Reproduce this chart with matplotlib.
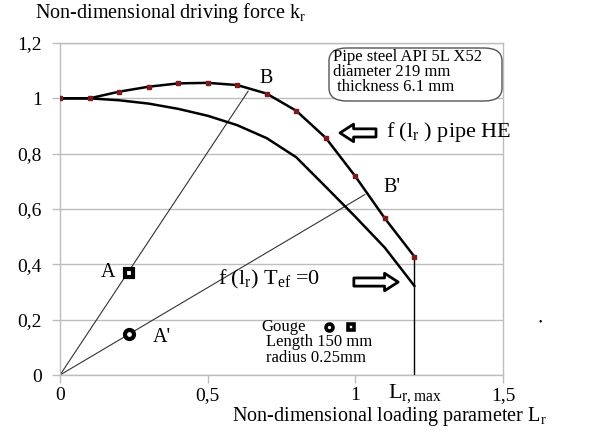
import matplotlib
matplotlib.use("Agg")
import matplotlib.pyplot as plt
from matplotlib.patches import FancyBboxPatch

plt.rcParams['font.family'] = ['Liberation Serif', 'DejaVu Serif']
plt.rcParams['mathtext.fontset'] = 'custom'
plt.rcParams['mathtext.rm'] = 'Liberation Serif'
plt.rcParams['mathtext.it'] = 'Liberation Serif:italic'

# Failure assessment curves
lr = [0.0, 0.1, 0.2, 0.3, 0.4, 0.5, 0.6, 0.7, 0.8, 0.9, 1.0, 1.1, 1.2]
kr_pipe_he = [1.0, 1.0, 1.024, 1.042, 1.054, 1.056, 1.048, 1.017, 0.955,
              0.857, 0.718, 0.566, 0.428]
kr_tef0 = [1.0, 1.0, 0.993, 0.981, 0.962, 0.937, 0.903, 0.856, 0.787,
           0.680, 0.572, 0.460, 0.322]
lr_max = 1.2

# Assessment points and load paths
point_A = (0.235, 0.37)
point_A2 = (0.235, 0.148)
point_B = (0.637, 1.026)
point_B2 = (1.032, 0.652)

x_ticks = [0, 0.5, 1, 1.5]
x_tick_labels = ['0', '0,5', '1', '1,5']
y_ticks = [0, 0.2, 0.4, 0.6, 0.8, 1.0, 1.2]
y_tick_labels = ['0', '0,2', '0,4', '0,6', '0,8', '1', '1,2']

fig = plt.figure(figsize=(5.97, 4.32), dpi=100)
ax = fig.add_axes([60 / 597, 57 / 432, 443 / 597, 332 / 432])
ax.set_xlim(0, 1.5)
ax.set_ylim(0, 1.2)

grid_c = '#bdbdbd'
for s in ax.spines.values():
    s.set_color(grid_c)
    s.set_linewidth(1.0)
ax.set_xticks(x_ticks)
ax.set_xticklabels(x_tick_labels, fontsize=14)
ax.set_yticks(y_ticks)
ax.set_yticklabels(y_tick_labels, fontsize=14)
ax.tick_params(axis='x', color=grid_c, length=6, width=1.0, pad=3)
ax.tick_params(axis='y', color=grid_c, length=6, width=1.0, pad=7)
ax.yaxis.grid(True, color=grid_c, linewidth=1.0)
ax.set_axisbelow(True)

# load paths from origin
ax.plot([0, point_B[0]], [0, point_B[1]], color='#333333', lw=0.8, zorder=2)
ax.plot([0, point_B2[0]], [0, point_B2[1]], color='#333333', lw=0.8, zorder=2)

# curves
ax.plot(lr, kr_tef0, color='black', lw=1.8, zorder=3)
ax.plot(lr, kr_pipe_he, color='black', lw=1.8, zorder=3)
ax.plot(lr, kr_pipe_he, ls='none', marker='s', ms=3, color='#7a1c1c', zorder=4)

# Lr,max cut-off
ax.plot([lr_max, lr_max], [0, kr_pipe_he[-1]], color='black', lw=1.0, zorder=3)

# assessment points
ax.plot(*point_A, marker='s', ms=6, mfc='white', mec='black', mew=3, zorder=5)
ax.plot(*point_A2, marker='o', ms=6.5, mfc='white', mec='black', mew=3, zorder=5)

fs = 14.5
ax.text(0.697, 1.073, 'B', fontsize=fs, ha='center', va='center')
ax.text(1.125, 0.676, "B'", fontsize=fs, ha='center', va='center')
ax.text(0.163, 0.372, 'A', fontsize=fs, ha='center', va='center')
ax.text(0.345, 0.137, "A'", fontsize=fs, ha='center', va='center')

ax.text(1.105, 0.878, r'f (l$_\mathrm{r}$ ) pipe HE', fontsize=16,
        ha='left', va='center', clip_on=False)
ax.text(0.535, 0.345, r'f (l$_\mathrm{r}$) T$_\mathrm{ef}$ =0', fontsize=16,
        ha='left', va='center')

arrow = dict(arrowstyle='simple,head_length=0.7,head_width=0.9,tail_width=0.42',
             mutation_scale=14, fc='white', ec='black', lw=2.0,
             shrinkA=0, shrinkB=0)
ax.annotate('', xy=(0.948, 0.875), xytext=(1.07, 0.875), arrowprops=arrow,
            annotation_clip=False)
ax.annotate('', xy=(1.145, 0.336), xytext=(0.995, 0.336), arrowprops=arrow)

# gouge description
gfs = 12
ax.text(0.683, 0.172, 'Gouge', fontsize=gfs, ha='left', va='center')
ax.plot(0.912, 0.172, marker='o', ms=5, mfc='white', mec='black', mew=2.6)
ax.plot(0.985, 0.172, marker='s', ms=4.5, mfc='white', mec='black', mew=2.6)
ax.text(0.697, 0.09, 'Length 150 mm\nradius 0.25mm', fontsize=gfs,
        ha='left', va='center', linespacing=0.95)

# pipe description box
box = FancyBboxPatch((329 / 597, (432 - 101) / 432), 173 / 597, 53 / 432,
                     boxstyle='round,pad=0,rounding_size=0.03',
                     transform=fig.transFigure, fc='white', ec='#555555', lw=1.0)
fig.patches.append(box)
fig.text(333 / 597, (432 - 72) / 432,
         'Pipe steel API 5L X52\ndiameter 219 mm\n thickness 6.1 mm',
         fontsize=12, va='center', ha='left', linespacing=0.92)

# axis titles
fig.text(35 / 597, (432 - 13) / 432, r'Non-dimensional driving force k$_\mathrm{r}$',
         fontsize=14.5, ha='left', va='center')
fig.text(232 / 597, (432 - 417) / 432,
         r'Non-dimensional loading parameter L$_\mathrm{r}$',
         fontsize=14.5, ha='left', va='center')
ax.text(lr_max, -0.025, r'L$_\mathrm{r,max}$', fontsize=16, ha='center',
        va='top', clip_on=False)

fig.text(540 / 597, (432 - 322) / 432, '•', fontsize=7, ha='center', va='center')

fig.savefig('out.png', dpi=100)
